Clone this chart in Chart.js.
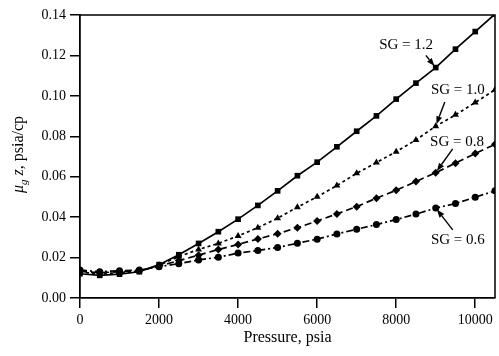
<!DOCTYPE html>
<html lang="en">
<head>
<meta charset="UTF-8">
<title>Gas viscosity-z product vs pressure</title>
<script src="https://cdn.jsdelivr.net/npm/chart.js"></script>
<style>
  html, body { margin: 0; padding: 0; background: #fff; }
  #wrap { position: relative; width: 499px; height: 356px; }
</style>
</head>
<body>
<div id="wrap"><canvas id="chart" width="499" height="356"></canvas></div>
<script>
// pressure, psia
const pressures = [0, 500, 1000, 1500, 2000, 2500, 3000, 3500, 4000, 4500, 5000,
                   5500, 6000, 6500, 7000, 7500, 8000, 8500, 9000, 9500, 10000, 10500];
// mu_g * z, psia/cp
const sg12 = [0.0120, 0.0112, 0.0118, 0.0130, 0.0165, 0.0214, 0.0270, 0.0328, 0.0390, 0.0458, 0.0530,
              0.0605, 0.0672, 0.0748, 0.0825, 0.0901, 0.0984, 0.1063, 0.1140, 0.1231, 0.1318, 0.1405];
const sg10 = [0.0128, 0.0120, 0.0125, 0.0132, 0.0162, 0.0205, 0.0240, 0.0270, 0.0307, 0.0348, 0.0395,
              0.0449, 0.0501, 0.0556, 0.0617, 0.0670, 0.0724, 0.0782, 0.0850, 0.0906, 0.0967, 0.1030];
const sg08 = [0.0132, 0.0125, 0.0130, 0.0135, 0.0158, 0.0185, 0.0212, 0.0240, 0.0265, 0.0292, 0.0318,
              0.0348, 0.0381, 0.0416, 0.0452, 0.0494, 0.0533, 0.0576, 0.0620, 0.0667, 0.0715, 0.0760];
const sg06 = [0.0138, 0.0130, 0.0135, 0.0138, 0.0155, 0.0170, 0.0188, 0.0202, 0.0222, 0.0235, 0.0250,
              0.0271, 0.0291, 0.0317, 0.0340, 0.0363, 0.0388, 0.0415, 0.0445, 0.0467, 0.0499, 0.0530];

const xTicks = [0, 2000, 4000, 6000, 8000, 10000];
const yTicks = [0, 0.02, 0.04, 0.06, 0.08, 0.10, 0.12, 0.14];

// curve labels: text spot and arrow start in data units, arrow points at the 9000 psia marker
const callouts = [
  { text: 'SG = 1.2', series: 0, tx: 8250, ty: 0.1252, sx: 8750, sy: 0.1200 },
  { text: 'SG = 1.0', series: 1, tx: 9560, ty: 0.1030, sx: 9230, sy: 0.0970 },
  { text: 'SG = 0.8', series: 2, tx: 9540, ty: 0.0772, sx: 9430, sy: 0.0738 },
  { text: 'SG = 0.6', series: 3, tx: 9560, ty: 0.0287, sx: 9430, sy: 0.0337 }
];
const arrowAt = 9000;

const serif = '"Liberation Serif", "Times New Roman", serif';

function pts(vals) {
  return pressures.map((p, i) => ({ x: p, y: vals[i] }));
}

function series(vals, style, radius, dash) {
  return {
    data: pts(vals),
    borderColor: '#000',
    backgroundColor: '#000',
    borderWidth: 1.7,
    borderDash: dash,
    pointStyle: style,
    pointRadius: radius,
    pointBorderWidth: 0,
    pointBackgroundColor: '#000',
    tension: 0
  };
}

const frameAndText = {
  id: 'frameAndText',
  afterDraw(chart) {
    const ctx = chart.ctx;
    const a = chart.chartArea;
    const xs = chart.scales.x, ys = chart.scales.y;
    ctx.save();
    // top and right frame
    ctx.strokeStyle = '#000';
    ctx.lineWidth = 1.5;
    ctx.beginPath();
    ctx.moveTo(a.left, a.top);
    ctx.lineTo(a.right, a.top);
    ctx.lineTo(a.right, a.bottom);
    ctx.stroke();

    // x title
    ctx.fillStyle = '#000';
    ctx.font = '16px ' + serif;
    ctx.textAlign = 'center';
    ctx.textBaseline = 'middle';
    ctx.fillText('Pressure, psia', (a.left + a.right) / 2, 338);

    // y title, mu sub g z
    ctx.translate(18, (a.top + a.bottom) / 2 - 2);
    ctx.rotate(-Math.PI / 2);
    ctx.textAlign = 'left';
    ctx.textBaseline = 'alphabetic';
    const parts = [
      { t: '\u03bc', f: 'italic 16px ' + serif, dy: 0 },
      { t: 'g', f: 'italic 11px ' + serif, dy: 4 },
      { t: ' z', f: 'italic 16px ' + serif, dy: 0 },
      { t: ', psia/cp', f: '16px ' + serif, dy: 0 }
    ];
    let w = 0;
    parts.forEach(p => { ctx.font = p.f; w += ctx.measureText(p.t).width; });
    let x = -w / 2;
    parts.forEach(p => {
      ctx.font = p.f;
      ctx.fillText(p.t, x, 5 + p.dy);
      x += ctx.measureText(p.t).width;
    });
    ctx.restore();

    // callouts with arrows
    ctx.save();
    ctx.fillStyle = '#000';
    ctx.strokeStyle = '#000';
    ctx.font = '15px ' + serif;
    ctx.textAlign = 'center';
    ctx.textBaseline = 'middle';
    callouts.forEach(c => {
      ctx.fillText(c.text, xs.getPixelForValue(c.tx), ys.getPixelForValue(c.ty));
      const vals = chart.data.datasets[c.series].data;
      const target = vals.find(d => d.x === arrowAt);
      const sx = xs.getPixelForValue(c.sx), sy = ys.getPixelForValue(c.sy);
      const ex0 = xs.getPixelForValue(target.x), ey0 = ys.getPixelForValue(target.y);
      const ang = Math.atan2(ey0 - sy, ex0 - sx);
      const ex = ex0 - Math.cos(ang) * 2, ey = ey0 - Math.sin(ang) * 2;
      const hl = 8, hw = 3;
      const bx = ex - Math.cos(ang) * hl, by = ey - Math.sin(ang) * hl;
      ctx.lineWidth = 1.4;
      ctx.beginPath();
      ctx.moveTo(sx, sy);
      ctx.lineTo(bx, by);
      ctx.stroke();
      ctx.beginPath();
      ctx.moveTo(ex, ey);
      ctx.lineTo(bx - Math.sin(ang) * hw, by + Math.cos(ang) * hw);
      ctx.lineTo(bx + Math.sin(ang) * hw, by - Math.cos(ang) * hw);
      ctx.closePath();
      ctx.fill();
    });
    ctx.restore();
  }
};

new Chart(document.getElementById('chart'), {
  type: 'line',
  data: {
    datasets: [
      series(sg12, 'rect', 4, []),
      series(sg10, 'triangle', 4, [3, 3]),
      series(sg08, 'rectRot', 4, [7, 4]),
      series(sg06, 'circle', 3.5, [7, 3, 2, 3])
    ]
  },
  options: {
    responsive: false,
    animation: false,
    events: [],
    layout: { padding: { left: 0, top: 15, right: 2, bottom: 0 } },
    plugins: { legend: { display: false }, tooltip: { enabled: false } },
    scales: {
      x: {
        type: 'linear',
        min: 0,
        max: 10500,
        afterBuildTicks: s => { s.ticks = xTicks.map(v => ({ value: v })); },
        afterFit: s => { s.height = 58; },
        border: { display: true, color: '#000', width: 1.8 },
        grid: { display: true, drawOnChartArea: false, drawTicks: true, tickLength: 10, color: '#000', lineWidth: 1.5 },
        ticks: { color: '#000', font: { family: serif, size: 14 }, padding: 4, maxRotation: 0,
                 callback: v => String(v) }
      },
      y: {
        type: 'linear',
        min: 0,
        max: 0.14,
        afterBuildTicks: s => { s.ticks = yTicks.map(v => ({ value: v })); },
        afterFit: s => { s.width = 80; },
        border: { display: true, color: '#000', width: 1.8 },
        grid: { display: true, drawOnChartArea: false, drawTicks: true, tickLength: 10, color: '#000', lineWidth: 1.5 },
        ticks: { color: '#000', font: { family: serif, size: 14 }, padding: 4,
                 callback: v => v.toFixed(2) }
      }
    }
  },
  plugins: [frameAndText]
});
</script>
</body>
</html>
